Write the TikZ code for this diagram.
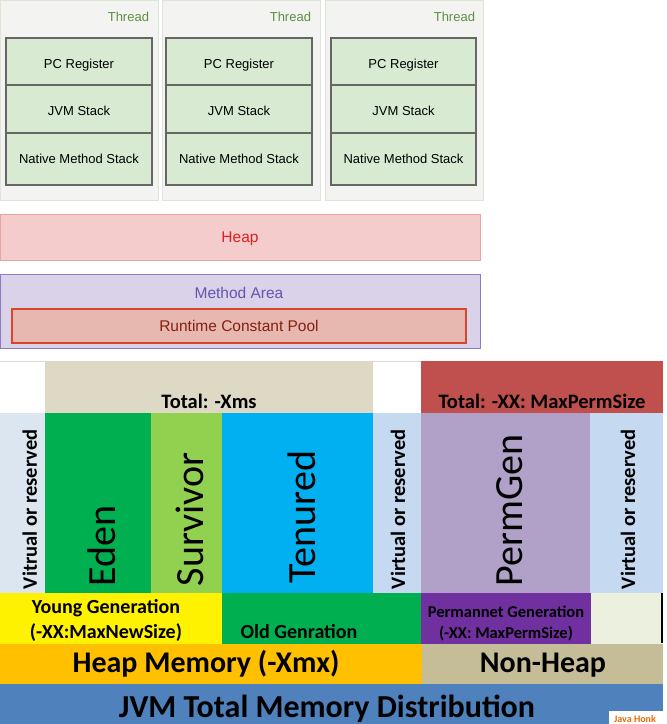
\documentclass[tikz,border=0pt]{standalone}
\usepackage{fontspec}
\setmainfont{Liberation Sans}
\newfontfamily\carl{Carlito}
\definecolor{thrfill}{HTML}{F3F4F1}
\definecolor{thrdraw}{HTML}{DCE6D6}
\definecolor{thrtext}{HTML}{5E8F45}
\definecolor{stkfill}{HTML}{D9EAD3}
\definecolor{stkdraw}{HTML}{666666}
\definecolor{heapfill}{HTML}{F4CCCC}
\definecolor{heapdraw}{HTML}{E8A3A3}
\definecolor{heaptext}{HTML}{E0201E}
\definecolor{mafill}{HTML}{D9D2E9}
\definecolor{madraw}{HTML}{8E7CC3}
\definecolor{matext}{HTML}{6455B0}
\definecolor{rcpfill}{HTML}{E6B8AF}
\definecolor{rcpdraw}{HTML}{D9452A}
\definecolor{rcptext}{HTML}{861F12}
\definecolor{xmsfill}{HTML}{DDD9C4}
\definecolor{permtot}{HTML}{C0504D}
\definecolor{virtA}{HTML}{DCE6F1}
\definecolor{virtB}{HTML}{C5D9F1}
\definecolor{edenc}{HTML}{00B050}
\definecolor{survc}{HTML}{92D050}
\definecolor{tenc}{HTML}{00B0F0}
\definecolor{permg}{HTML}{B1A0C7}
\definecolor{permgen}{HTML}{7030A0}
\definecolor{lightc}{HTML}{EBF1DE}
\definecolor{heapmem}{HTML}{FFC000}
\definecolor{nonheap}{HTML}{C4BD97}
\definecolor{jvmc}{HTML}{4F81BD}
\definecolor{honk}{HTML}{E46C0A}
\definecolor{gridc}{HTML}{D9D9D9}
\tikzset{
  arial/.style={inner sep=0pt, outer sep=0pt, font=\fontsize{13}{15}\selectfont},
  threadlbl/.style={arial, anchor=base east, text=thrtext},
  stacklbl/.style={arial, anchor=base},
  biglbl/.style={inner sep=0pt, outer sep=0pt, anchor=base, font=\fontsize{15.5}{18}\selectfont},
  xl/.style={inner sep=0pt, outer sep=0pt, anchor=base, font=\carl\bfseries\fontsize{20.5}{24}\selectfont},
  vert/.style={inner sep=0pt, outer sep=0pt, rotate=90, anchor=base west, font=\carl\bfseries\fontsize{20.5}{24}\selectfont},
  huge/.style={inner sep=0pt, outer sep=0pt, rotate=90, anchor=base west, font=\carl\fontsize{40}{46}\selectfont},
  threadbox/.style={fill=thrfill, draw=thrdraw, line width=0.8pt},
  stackbox/.style={fill=stkfill, draw=stkdraw, line width=1.4pt},
}
\begin{document}
\begin{tikzpicture}[x=1pt,y=-1pt]
\useasboundingbox (0,0) rectangle (667,724);
% ---------- threads ----------
\foreach \ox/\ix/\ex/\tx/\n in {0/6/152/149/1, 162/166/312/311/2, 325/331/476/475/3}{
  \path[threadbox] (\ox+0.5,0.5) rectangle (\ox+158,200);
  \path[stackbox] (\ix,38) rectangle (\ex,185);
  \draw[stkdraw, line width=1.2pt] (\ix,85) -- (\ex,85);
  \draw[stkdraw, line width=1.2pt] (\ix,133) -- (\ex,133);
  \node[threadlbl] (thread\n) at (\tx,21.5) {Thread};
  \node[stacklbl] (pc\n) at ({(\ix+\ex)/2},68) {PC Register};
  \node[stacklbl] (jvms\n) at ({(\ix+\ex)/2},115.5) {JVM Stack};
  \node[stacklbl] (nms\n) at ({(\ix+\ex)/2},163) {Native Method Stack};
}
% ---------- heap / method area ----------
\path[fill=heapfill, draw=heapdraw, line width=1pt] (0.5,214) rectangle (480,260);
\node[biglbl, text=heaptext] (heap) at (240,242.5) {Heap};
\path[fill=mafill, draw=madraw, line width=1pt] (0.5,274) rectangle (480,348);
\node[biglbl, text=matext] (ma) at (239,298) {Method Area};
\path[fill=rcpfill, draw=rcpdraw, line width=1.2pt] (12,309) rectangle (466,343);
\node[biglbl, text=rcptext] (rcp) at (239,331) {Runtime Constant Pool};
% ---------- memory table ----------
\draw[gridc, line width=0.6pt] (0,361) -- (45,361);
\draw[gridc, line width=0.6pt] (373,361) -- (421,361);
\fill[xmsfill] (45,361) rectangle (373,413);
\fill[permtot] (421,361) rectangle (663,413);
\node[xl] (xms) at (209,408) {Total: -Xms};
\node[xl] (maxperm) at (542,408) {Total: -XX: MaxPermSize};
% row 2
\fill[virtA] (0,413) rectangle (45,593);
\fill[edenc] (45,413) rectangle (151,593);
\fill[survc] (151,413) rectangle (222,593);
\fill[tenc] (222,413) rectangle (373,593);
\fill[virtB] (373,413) rectangle (421,593);
\fill[permg] (421,413) rectangle (590,593);
\fill[virtB] (590,413) rectangle (663,593);
\node[vert] (v1) at (37,589) {Vitrual or reserved};
\node[huge] (eden) at (115,586) {Eden};
\node[huge] (surv) at (203,586) {Survivor};
\node[huge] (ten) at (315,583) {Tenured};
\node[vert] (v2) at (405,589) {Virtual or reserved};
\node[huge] (pg) at (522,586) {PermGen};
\node[vert] (v3) at (635,589) {Virtual or reserved};
% row 3
\fill[yellow] (0,593) rectangle (222,644);
\fill[edenc] (222,593) rectangle (421,644);
\fill[permgen] (421,593) rectangle (591,644);
\fill[lightc] (591,593) rectangle (661,644);
\draw[black, line width=1.8pt] (662,593) -- (662,643);
\node[xl, font=\carl\bfseries\fontsize{20}{24}\selectfont] (yg) at (106,613) {Young Generation};
\node[xl, font=\carl\bfseries\fontsize{20}{24}\selectfont] (ygs) at (106,638) {(-XX:MaxNewSize)};
\node[xl, font=\carl\bfseries\fontsize{20}{24}\selectfont] (og) at (299,638) {Old Genration};
\node[xl, font=\carl\bfseries\fontsize{16.5}{20}\selectfont] (pgn) at (506,617) {Permannet Generation};
\node[xl, font=\carl\bfseries\fontsize{16.5}{20}\selectfont] (pgs) at (506,638) {(-XX: MaxPermSize)};
% row 4
\fill[heapmem] (0,644) rectangle (422,684);
\fill[nonheap] (422,644) rectangle (663,684);
\node[xl, font=\carl\bfseries\fontsize{30}{34}\selectfont] (hm) at (206,672) {Heap Memory (-Xmx)};
\node[xl, font=\carl\bfseries\fontsize{30}{34}\selectfont] (nh) at (543,672) {Non-Heap};
% row 5
\fill[jvmc] (0,684) rectangle (663,724);
\node[xl, font=\carl\bfseries\fontsize{32}{36}\selectfont] (jvm) at (327,717) {JVM Total Memory Distribution};
\fill[white] (609,711) rectangle (663,724);
\node[inner sep=0pt, anchor=base, text=honk, font=\carl\bfseries\fontsize{10}{12}\selectfont] (honk) at (635,722) {Java Honk};
\end{tikzpicture}
\end{document}
